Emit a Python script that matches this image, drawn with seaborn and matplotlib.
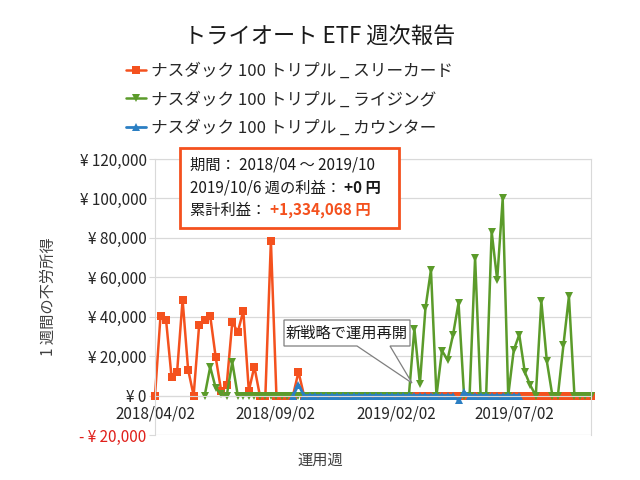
import numpy as np
import pandas as pd
import matplotlib
matplotlib.use("Agg")
import matplotlib.pyplot as plt
import matplotlib.dates as mdates
from matplotlib.ticker import FuncFormatter
from matplotlib.text import Annotation
from matplotlib.patches import Polygon
import seaborn as sns

# 週次データ（2018/04/02 から 80 週）
weeks = pd.date_range("2018-04-02", periods=80, freq="7D")

three_card = [0, 40500, 38500, 9300, 11800, 48600, 13200, 0, 35800, 38100,
              40500, 19400, 2200, 5600, 37300, 32200, 43000, 2400, 14700, 0,
              0, 78500, 0, 0, 0, 0, 12000] + [0] * 53

rising = [np.nan] * 9 + [0, 14500, 3900, 600, 0, 17000] + [0] * 32 + \
         [34000, 5900, 44300, 63800, 0, 22800, 18100, 30800, 47000, 0,
          0, 70000, 0, 0, 83200, 58700, 100000, 0, 23000, 30900,
          12000, 5200, 0, 48000, 17400, 0, 0, 25500, 50300, 0,
          0, 0, 0]

counter = [np.nan] * 25 + [0, 5500] + [0] * 28 + [-2400, 1700] + [0] * 10 + [np.nan] * 13

labels = ["ナスダック 100 トリプル _ スリーカード",
          "ナスダック 100 トリプル _ ライジング",
          "ナスダック 100 トリプル _ カウンター"]
colors = ["#F4511E", "#5B9B2A", "#2B7FC3"]
markers = ["s", "v", "^"]
msizes = [5.5, 6, 6]
widths = [1.8, 1.8, 2.0]

df = pd.DataFrame({"week": weeks, labels[0]: three_card,
                   labels[1]: rising, labels[2]: counter})

sns.set_style("white")
plt.rcParams["font.family"] = ["Noto Sans CJK JP", "DejaVu Sans"]

fig = plt.figure(figsize=(6.4, 4.8), dpi=100)
ax = fig.add_axes([155 / 640, 1 - 435 / 480, (591 - 155) / 640, (435 - 159) / 480])

for label, color, marker, ms, lw in zip(labels, colors, markers, msizes, widths):
    sub = df[["week", label]].dropna()
    sns.lineplot(data=sub, x="week", y=label, ax=ax, color=color, marker=marker,
                 markersize=ms, markeredgewidth=0, linewidth=lw, label=label,
                 clip_on=False)

ax.set_xlim(weeks[0], weeks[-1])
ax.set_ylim(-20000, 120000)
ax.set_yticks(range(-20000, 120001, 20000))


def yen(v, pos):
    if v < 0:
        return f"- ¥ {abs(int(v)):,}"
    return f"¥ {int(v):,}"


ax.yaxis.set_major_formatter(FuncFormatter(yen))
ax.set_xticks(pd.to_datetime(["2018-04-02", "2018-09-02", "2019-02-02", "2019-07-02"]))
ax.xaxis.set_major_formatter(mdates.DateFormatter("%Y/%m/%d"))

ax.grid(axis="y", color="#D9D9D9", linewidth=0.9)
ax.set_axisbelow(True)
for s in ["left", "right", "top", "bottom"]:
    ax.spines[s].set_color("#D9D9D9")
ax.spines["bottom"].set_position(("data", 0))
ax.tick_params(axis="x", length=0, labelsize=11, labelcolor="#262626", pad=7)
ax.tick_params(axis="y", length=4, color="#D9D9D9", labelsize=11,
               labelcolor="#262626", pad=2, left=True)
for t in ax.get_yticklabels():
    if t.get_text().startswith("-"):
        t.set_color("#E0201B")

ax.set_xlabel("")
ax.set_ylabel("1 週間の不労所得", fontsize=11, color="#404040", labelpad=16)
fig.text(320 / 640, 1 - 460 / 480, "運用週", ha="center", va="center",
         fontsize=11, color="#404040")

fig.suptitle("トライオート ETF 週次報告", x=0.5, y=1 - 37 / 480, va="center",
             fontsize=16, color="#1a1a1a")

handles, labs = ax.get_legend_handles_labels()
ax.get_legend().remove()
fig.legend(handles, labs, loc="upper left", bbox_to_anchor=(126 / 640, 1 - 63 / 480),
           frameon=False, fontsize=12, handlelength=1.2, handletextpad=0.3,
           labelspacing=0.68, borderpad=0, borderaxespad=0)

# 情報ボックス
box = plt.Rectangle((180 / 640, 1 - 228 / 480), 219 / 640, 80 / 480,
                    transform=fig.transFigure, facecolor="white",
                    edgecolor="#F4511E", linewidth=2, zorder=5)
fig.patches.append(box)
fig.text(190 / 640, 1 - 165 / 480, "期間： 2018/04 ～ 2019/10", fontsize=11,
         va="center", zorder=6, color="#1a1a1a")
t2 = fig.text(190 / 640, 1 - 188 / 480, "2019/10/6 週の利益： ", fontsize=11,
              va="center", zorder=6, color="#1a1a1a")
a2 = Annotation("+0 円", xy=(1, 0.5), xycoords=t2, va="center", ha="left",
                fontsize=11, fontweight="bold", color="#1a1a1a")
a2.set_zorder(6)
fig.add_artist(a2)
t3 = fig.text(190 / 640, 1 - 210 / 480, "累計利益： ", fontsize=11,
              va="center", zorder=6, color="#1a1a1a")
a3 = Annotation("+1,334,068 円", xy=(1, 0.5), xycoords=t3, va="center", ha="left",
                fontsize=11, fontweight="bold", color="#F4511E")
a3.set_zorder(6)
fig.add_artist(a3)

# 吹き出し（新戦略で運用再開）
callout_px = [(284, 320), (410, 320), (410, 346), (390, 346), (412, 383),
              (357, 346), (284, 346)]
callout = Polygon([(x / 640, 1 - y / 480) for x, y in callout_px], closed=True,
                  transform=fig.transFigure, facecolor="white",
                  edgecolor="#7F7F7F", linewidth=0.9, zorder=4)
ax.add_artist(callout)
callout.set_clip_on(False)
ax.text(347 / 640, 1 - 333 / 480, "新戦略で運用再開", transform=fig.transFigure,
        ha="center", va="center", fontsize=11, color="#1a1a1a", zorder=5)

fig.savefig("out.png", dpi=100)
